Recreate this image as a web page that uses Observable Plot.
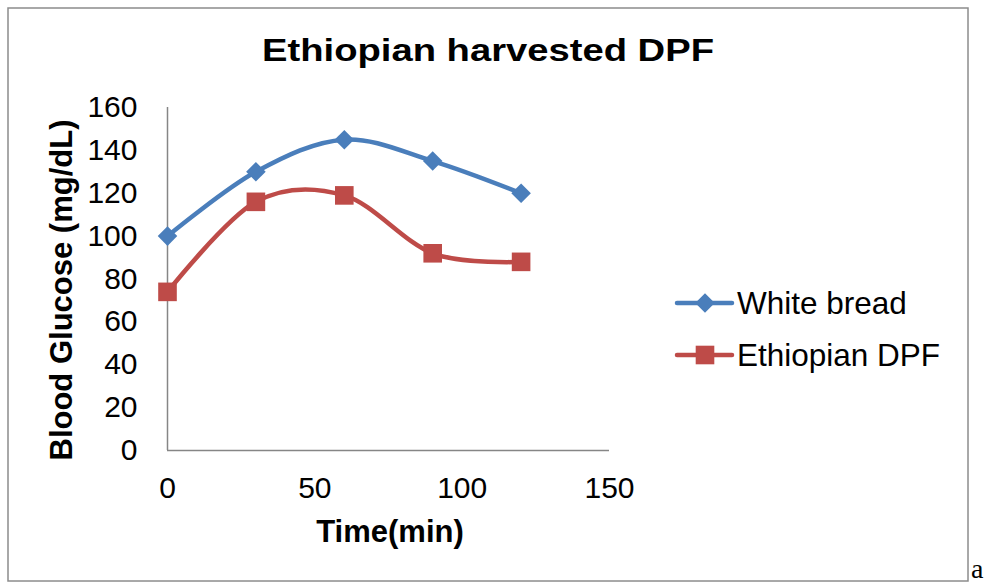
<!DOCTYPE html>
<html>
<head>
<meta charset="utf-8">
<script src="https://cdn.jsdelivr.net/npm/d3@7"></script>
<script src="https://cdn.jsdelivr.net/npm/@observablehq/plot@0.6"></script>
<style>
  html, body { margin: 0; padding: 0; background: #fff; }
  #wrap { position: relative; width: 984px; height: 584px; overflow: hidden; }
</style>
</head>
<body>
<div id="wrap"></div>
<script>
const titleText = "Ethiopian harvested DPF";
const xLabel = "Time(min)";
const yLabel = "Blood Glucose (mg/dL)";
const times = [0, 30, 60, 90, 120];
const whiteBread = [100, 130, 145, 135, 120];
const ethiopianDPF = [74, 116, 119, 92, 88];
const seriesNames = ["White bread", "Ethiopian DPF"];
const seriesColors = ["#4A7EBB", "#BE4B48"];
const xTicks = [0, 50, 100, 150];
const yTicks = [0, 20, 40, 60, 80, 100, 120, 140, 160];
const cornerLetter = "a";

const seriesValues = [whiteBread, ethiopianDPF];
const data = seriesNames.flatMap((name, i) =>
  times.map((t, j) => ({ series: name, time: t, value: seriesValues[i][j] }))
);

const font = "'Liberation Sans', Arial, sans-serif";

const chart = Plot.plot({
  width: 984,
  height: 584,
  marginLeft: 167,
  marginRight: 375,
  marginTop: 107,
  marginBottom: 134,
  style: { fontFamily: font, fontSize: "30px", background: "transparent", color: "#000", overflow: "visible" },
  x: { domain: [0, 150] },
  y: { domain: [0, 160] },
  color: { domain: seriesNames, range: seriesColors },
  marks: [
    Plot.ruleY([0], { stroke: "#868686", strokeWidth: 1.5 }),
    Plot.ruleX([0], { stroke: "#868686", strokeWidth: 1.5 }),
    Plot.axisY({ ticks: yTicks, tickSize: 0, tickPadding: 30, label: null, fontSize: 30, fill: "#000" }),
    Plot.axisX({ ticks: xTicks, tickSize: 0, tickPadding: 26, label: null, fontSize: 30, fill: "#000" }),
    Plot.line(data, { x: "time", y: "value", z: "series", stroke: "series", curve: "cardinal", strokeWidth: 4.5 }),
    Plot.dot(data.filter(d => d.series === seriesNames[0]), { x: "time", y: "value", fill: "series", symbol: "square", r: 7.8, rotate: 45 }),
    Plot.dot(data.filter(d => d.series === seriesNames[1]), { x: "time", y: "value", fill: "series", symbol: "square", r: 10.5 })
  ]
});

const svg = d3.select(chart);

// outer chart border
svg.insert("rect", ":first-child")
  .attr("x", 8).attr("y", 8).attr("width", 960).attr("height", 573)
  .attr("fill", "none").attr("stroke", "#8c8c8c").attr("stroke-width", 1.5);

// title
svg.append("text")
  .attr("x", 488).attr("y", 61)
  .attr("text-anchor", "middle")
  .attr("font-family", font).attr("font-weight", "bold").attr("font-size", 32)
  .attr("textLength", 452).attr("lengthAdjust", "spacingAndGlyphs")
  .attr("fill", "#000")
  .text(titleText);

// axis titles
svg.append("text")
  .attr("x", 390).attr("y", 542)
  .attr("text-anchor", "middle")
  .attr("font-family", font).attr("font-weight", "bold").attr("font-size", 31)
  .attr("fill", "#000")
  .text(xLabel);

svg.append("text")
  .attr("transform", "translate(72,290) rotate(-90)")
  .attr("text-anchor", "middle")
  .attr("font-family", font).attr("font-weight", "bold").attr("font-size", 31)
  .attr("fill", "#000")
  .text(yLabel);

// legend
const legend = svg.append("g").attr("text-anchor", "start");
seriesNames.forEach((name, i) => {
  const cy = 303 + i * 52;
  const g = legend.append("g");
  g.append("line")
    .attr("x1", 677).attr("x2", 732).attr("y1", cy).attr("y2", cy)
    .attr("stroke", seriesColors[i]).attr("stroke-width", 4.5).attr("stroke-linecap", "round");
  if (i === 0) {
    g.append("path")
      .attr("d", d3.symbol(d3.symbolSquare, 7.8 * 7.8 * Math.PI)())
      .attr("transform", `translate(705,${cy}) rotate(45)`)
      .attr("fill", seriesColors[i]);
  } else {
    g.append("path")
      .attr("d", d3.symbol(d3.symbolSquare, 10.5 * 10.5 * Math.PI)())
      .attr("transform", `translate(705,${cy})`)
      .attr("fill", seriesColors[i]);
  }
  g.append("text")
    .attr("x", 737).attr("y", cy + 11)
    .attr("text-anchor", "start")
    .attr("font-family", font).attr("font-size", 31.5)
    .attr("fill", "#000")
    .text(name);
});

// stray corner letter
svg.append("text")
  .attr("x", 971).attr("y", 578)
  .attr("text-anchor", "start")
  .attr("font-family", "'Liberation Serif', 'Times New Roman', serif").attr("font-size", 28)
  .attr("fill", "#000")
  .text(cornerLetter);

document.getElementById("wrap").appendChild(chart);
</script>
</body>
</html>
